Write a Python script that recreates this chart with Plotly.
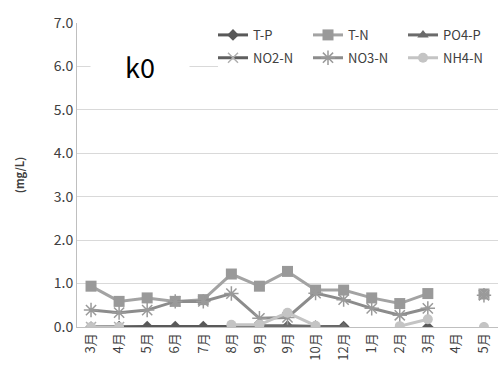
import plotly.graph_objects as go

months = ["3月", "4月", "5月", "6月", "7月", "8月", "9月", "9月", "10月", "12月", "1月", "2月", "3月", "4月", "5月"]
x_idx = list(range(len(months)))

tp = [0.0, 0.01, 0.01, 0.01, 0.01, 0.01, 0.02, 0.02, 0.02, 0.01, None, None, 0.0, None, None]
tn = [0.94, 0.59, 0.67, 0.59, 0.63, 1.22, 0.94, 1.28, 0.85, 0.85, 0.67, 0.54, 0.77, None, 0.76]
po4p = [None, None, None, None, None, 0.0, 0.03, 0.03, 0.01, 0.0, None, None, None, None, 0.0]
no2n = [0.0, 0.0, None, None, None, None, None, None, None, None, None, None, None, None, 0.74]
no3n = [0.39, 0.33, 0.39, 0.59, 0.59, 0.77, 0.2, 0.22, 0.78, 0.63, 0.43, 0.27, 0.43, None, 0.73]
nh4n = [0.0, 0.0, None, None, None, 0.05, 0.05, 0.33, 0.03, None, None, 0.02, 0.18, None, 0.0]

series = [
    ("T-P", tp, "#595959", "#595959", "diamond", 9, "legend"),
    ("T-N", tn, "#a3a3a3", "#999999", "square", 11, "legend"),
    ("PO4-P", po4p, "#6b6b6b", "#6b6b6b", "triangle-up", 10, "legend"),
    ("NO2-N", no2n, "#5f5f5f", "#b0b0b0", "x-thin-open", 10, "legend2"),
    ("NO3-N", no3n, "#8c8c8c", "#9a9a9a", "asterisk-open", 12, "legend2"),
    ("NH4-N", nh4n, "#c4c4c4", "#c4c4c4", "circle", 10, "legend2"),
]

fig = go.Figure()
for name, vals, lc, mc, sym, size, lg in series:
    marker = dict(symbol=sym, size=size, color=mc)
    if "open" in sym:
        marker["line"] = dict(color=mc, width=1.5)
    fig.add_trace(go.Scatter(
        x=x_idx, y=vals, name=name, mode="lines+markers", legend=lg,
        line=dict(color=lc, width=3), marker=marker, connectgaps=False,
    ))

font_family = "Noto Sans CJK JP, Open Sans, sans-serif"
legend_common = dict(
    orientation="h", x=1.0, xanchor="right", yanchor="top",
    bgcolor="rgba(255,255,255,0)", font=dict(size=13, color="#404040", family=font_family),
    entrywidth=50, itemwidth=30,
)
fig.update_layout(
    width=502, height=372,
    margin=dict(l=77, r=4, t=23, b=45),
    plot_bgcolor="white", paper_bgcolor="white",
    font=dict(family=font_family, size=13, color="#404040"),
    showlegend=True,
    legend=dict(y=1.01, **legend_common),
    legend2=dict(y=0.935, **legend_common),
    xaxis=dict(
        range=[-0.5, 14.5], tickmode="array", tickvals=x_idx, ticktext=months,
        tickangle=-90, showgrid=False, showline=True, linecolor="#bfbfbf",
        zeroline=False, ticks="", tickfont=dict(size=13),
    ),
    yaxis=dict(
        range=[0, 7], dtick=1, tickformat=".1f", showgrid=True,
        gridcolor="#d9d9d9", showline=True, linecolor="#bfbfbf", zeroline=False,
        ticks="", tickfont=dict(size=14),
        title=dict(text="<b>(mg/L)</b>", font=dict(size=11, color="#404040"), standoff=26),
    ),
    shapes=[dict(type="rect", xref="paper", yref="paper", x0=0.335, x1=1.0, y0=0.85, y1=0.995,
                 fillcolor="white", line=dict(width=0), layer="above")],
    annotations=[dict(
        text="k0", x=0.15, xref="paper", xanchor="center", y=6.0, yref="y", yanchor="middle",
        showarrow=False, font=dict(size=27, color="black"), bgcolor="white", width=96,
    )],
)

fig.write_html("out.html")
